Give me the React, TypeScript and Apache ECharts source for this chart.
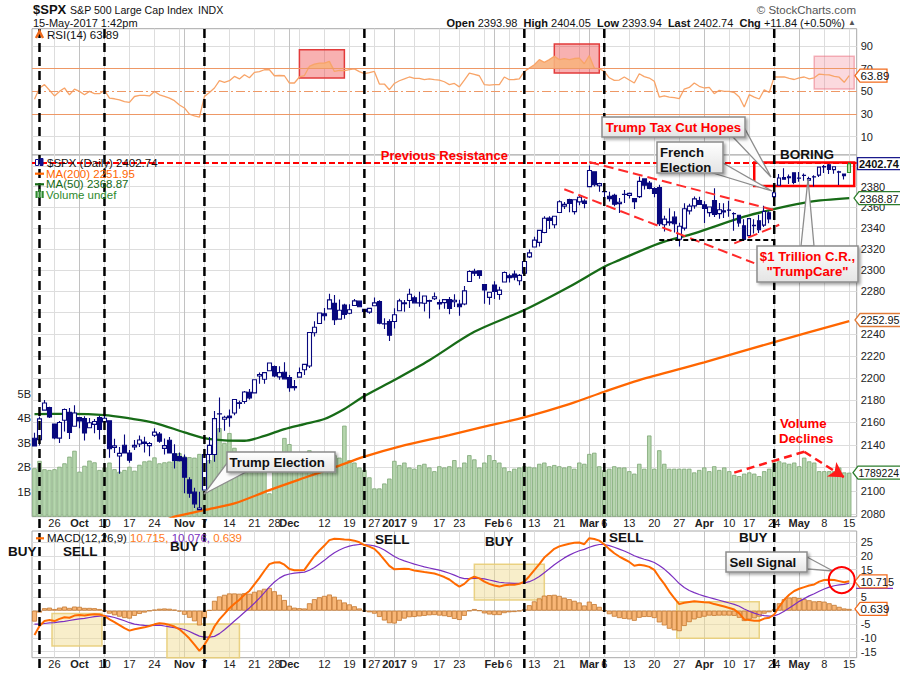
import React, { useEffect, useRef } from "react";
import * as echarts from "echarts";

const FONT = "Arial, 'Liberation Sans', sans-serif";

const dates: string[] = [
"2016-09-20","2016-09-21","2016-09-22","2016-09-23","2016-09-26","2016-09-27","2016-09-28","2016-09-29","2016-09-30",
"2016-10-03","2016-10-04","2016-10-05","2016-10-06","2016-10-07","2016-10-10","2016-10-11","2016-10-12","2016-10-13","2016-10-14","2016-10-17","2016-10-18","2016-10-19","2016-10-20","2016-10-21","2016-10-24","2016-10-25","2016-10-26","2016-10-27","2016-10-28","2016-10-31",
"2016-11-01","2016-11-02","2016-11-03","2016-11-04","2016-11-07","2016-11-08","2016-11-09","2016-11-10","2016-11-11","2016-11-14","2016-11-15","2016-11-16","2016-11-17","2016-11-18","2016-11-21","2016-11-22","2016-11-23","2016-11-25","2016-11-28","2016-11-29","2016-11-30",
"2016-12-01","2016-12-02","2016-12-05","2016-12-06","2016-12-07","2016-12-08","2016-12-09","2016-12-12","2016-12-13","2016-12-14","2016-12-15","2016-12-16","2016-12-19","2016-12-20","2016-12-21","2016-12-22","2016-12-23","2016-12-27","2016-12-28","2016-12-29","2016-12-30",
"2017-01-03","2017-01-04","2017-01-05","2017-01-06","2017-01-09","2017-01-10","2017-01-11","2017-01-12","2017-01-13","2017-01-17","2017-01-18","2017-01-19","2017-01-20","2017-01-23","2017-01-24","2017-01-25","2017-01-26","2017-01-27","2017-01-30","2017-01-31",
"2017-02-01","2017-02-02","2017-02-03","2017-02-06","2017-02-07","2017-02-08","2017-02-09","2017-02-10","2017-02-13","2017-02-14","2017-02-15","2017-02-16","2017-02-17","2017-02-21","2017-02-22","2017-02-23","2017-02-24","2017-02-27","2017-02-28",
"2017-03-01","2017-03-02","2017-03-03","2017-03-06","2017-03-07","2017-03-08","2017-03-09","2017-03-10","2017-03-13","2017-03-14","2017-03-15","2017-03-16","2017-03-17","2017-03-20","2017-03-21","2017-03-22","2017-03-23","2017-03-24","2017-03-27","2017-03-28","2017-03-29","2017-03-30","2017-03-31",
"2017-04-03","2017-04-04","2017-04-05","2017-04-06","2017-04-07","2017-04-10","2017-04-11","2017-04-12","2017-04-13","2017-04-17","2017-04-18","2017-04-19","2017-04-20","2017-04-21","2017-04-24","2017-04-25","2017-04-26","2017-04-27","2017-04-28",
"2017-05-01","2017-05-02","2017-05-03","2017-05-04","2017-05-05","2017-05-08","2017-05-09","2017-05-10","2017-05-11","2017-05-12","2017-05-15","2017-05-16"
];

// [open, close, low, high]
const ohlc: number[][] = [
[2145.9,2139.1,2139.1,2150.8],[2144.6,2163.1,2139.6,2165.1],[2170.9,2177.2,2170.9,2179.99],[2173.3,2164.7,2163.97,2173.8],[2158.5,2146.1,2145.0,2158.5],
[2146.0,2159.9,2141.6,2161.1],[2161.9,2171.4,2151.8,2172.4],[2168.9,2151.1,2145.2,2172.7],[2156.5,2168.3,2156.5,2175.3],[2164.3,2161.2,2154.8,2164.4],
[2163.4,2150.5,2144.0,2165.5],[2155.2,2159.7,2155.2,2163.95],[2158.2,2160.8,2150.3,2162.9],[2164.2,2153.7,2144.9,2165.9],[2160.4,2163.7,2160.4,2169.6],
[2161.4,2136.7,2128.8,2161.6],[2137.7,2139.2,2132.8,2145.4],[2130.3,2132.6,2114.7,2138.2],[2139.7,2132.98,2132.9,2149.2],[2132.95,2126.5,2124.4,2135.6],
[2138.3,2139.6,2135.5,2144.4],[2140.8,2144.3,2138.2,2148.4],[2142.5,2141.3,2133.4,2147.2],[2139.4,2141.2,2130.1,2142.6],[2148.5,2151.3,2146.9,2154.8],
[2149.7,2143.2,2141.9,2151.4],[2136.97,2139.4,2131.6,2145.7],[2144.1,2133.0,2132.5,2147.1],[2132.2,2126.4,2119.4,2140.7],[2129.8,2126.2,2125.5,2133.3],
[2128.7,2111.7,2097.9,2131.5],[2109.4,2097.9,2094.0,2111.8],[2098.8,2088.7,2085.2,2102.6],[2083.8,2085.2,2083.8,2099.1],[2100.6,2131.5,2100.6,2132.0],
[2131.6,2139.6,2123.6,2146.9],[2131.6,2163.3,2125.3,2170.1],[2167.5,2167.48,2151.2,2182.3],[2162.7,2164.5,2152.5,2165.9],[2165.6,2164.2,2156.1,2171.4],
[2168.3,2180.4,2166.4,2180.8],[2177.5,2176.9,2172.2,2179.2],[2178.6,2187.1,2176.6,2188.1],[2186.9,2181.9,2180.4,2189.9],[2186.4,2198.2,2186.4,2198.7],
[2201.6,2202.9,2194.5,2204.8],[2198.6,2204.7,2194.5,2204.7],[2206.3,2213.4,2206.3,2213.4],[2210.2,2201.7,2200.4,2211.1],[2200.8,2204.7,2198.1,2210.5],
[2204.97,2199.0,2198.8,2214.1],[2200.2,2191.1,2187.4,2202.6],[2191.1,2191.95,2188.4,2197.95],[2200.6,2204.7,2199.97,2209.4],[2207.3,2212.2,2202.5,2212.8],
[2210.7,2241.4,2208.9,2241.6],[2241.1,2246.2,2237.6,2251.7],[2249.7,2259.5,2249.2,2259.8],[2258.8,2256.96,2252.4,2264.0],[2263.3,2271.7,2263.3,2277.5],
[2268.4,2253.3,2248.4,2276.2],[2253.8,2262.0,2253.8,2272.1],[2266.8,2258.1,2254.2,2268.1],[2259.2,2262.5,2258.2,2267.5],[2266.5,2270.8,2266.1,2272.6],
[2270.5,2265.2,2265.2,2271.2],[2262.9,2260.96,2256.1,2263.2],[2260.25,2263.8,2258.8,2263.8],[2266.2,2268.9,2266.2,2273.8],[2270.2,2249.9,2249.1,2271.3],
[2249.5,2249.3,2244.6,2254.5],[2251.6,2238.8,2233.6,2253.6],[2251.6,2257.8,2245.1,2263.9],[2261.6,2270.8,2261.6,2272.8],[2268.2,2269.0,2260.5,2271.5],
[2271.1,2276.98,2264.1,2282.1],[2273.6,2268.9,2268.8,2275.5],[2269.0,2268.9,2265.3,2279.3],[2268.6,2275.3,2260.8,2275.3],[2271.1,2270.4,2254.3,2271.8],
[2272.7,2274.6,2271.5,2278.7],[2269.1,2267.9,2262.8,2272.1],[2269.1,2271.9,2263.4,2272.0],[2271.9,2263.7,2258.4,2274.3],[2269.96,2271.3,2265.0,2276.96],
[2267.8,2265.2,2257.0,2271.8],[2267.9,2280.1,2266.7,2284.6],[2288.9,2298.4,2288.9,2299.6],[2298.6,2296.7,2294.1,2300.99],[2299.0,2294.7,2291.6,2299.0],
[2286.0,2280.9,2268.0,2286.0],[2274.0,2278.9,2267.2,2279.1],[2285.6,2279.6,2272.4,2289.1],[2276.7,2280.85,2271.7,2283.97],[2288.5,2297.4,2287.9,2298.3],
[2294.3,2292.6,2287.9,2296.2],[2295.9,2293.1,2290.2,2299.4],[2289.6,2294.7,2285.4,2295.9],[2296.7,2307.9,2296.6,2311.1],[2312.3,2316.1,2311.1,2319.2],
[2321.7,2328.3,2321.4,2331.6],[2326.1,2337.6,2322.2,2337.6],[2335.6,2349.3,2334.8,2351.3],[2349.6,2347.2,2338.9,2351.3],[2343.0,2351.2,2339.6,2351.2],
[2354.9,2365.4,2354.9,2366.7],[2361.1,2362.8,2358.3,2365.1],[2367.5,2363.8,2355.1,2368.3],[2355.7,2367.3,2352.9,2367.3],[2365.2,2369.75,2361.9,2371.5],
[2366.1,2363.6,2358.96,2367.8],[2380.1,2395.96,2380.1,2400.98],[2394.75,2381.9,2380.2,2394.75],[2380.9,2383.1,2375.1,2383.9],[2375.2,2375.3,2367.98,2378.8],
[2370.7,2368.4,2365.5,2375.1],[2371.6,2362.98,2361.0,2373.2],[2363.5,2364.9,2354.5,2369.1],[2372.5,2372.6,2364.0,2376.9],[2371.6,2373.5,2368.5,2374.4],
[2368.5,2365.45,2358.2,2368.6],[2370.3,2385.3,2368.9,2390.0],[2387.7,2381.4,2377.2,2388.1],[2383.7,2378.25,2377.6,2385.7],[2378.2,2373.5,2369.7,2379.6],
[2379.3,2344.0,2341.9,2381.9],[2343.0,2348.45,2336.5,2351.8],[2345.1,2345.96,2342.1,2358.9],[2350.4,2343.98,2335.7,2356.2],[2329.1,2341.6,2322.25,2344.9],
[2339.8,2358.6,2337.6,2363.8],[2356.5,2361.1,2352.9,2363.4],[2361.3,2368.1,2358.6,2370.4],[2366.6,2362.7,2362.6,2370.3],[2362.3,2358.8,2344.7,2365.9],
[2354.8,2360.2,2350.7,2360.5],[2366.6,2352.95,2350.5,2378.4],[2353.8,2357.5,2348.9,2364.2],[2356.6,2355.5,2349.6,2363.8],[2357.2,2357.1,2350.7,2366.4],
[2353.9,2353.8,2337.25,2355.2],[2352.2,2344.9,2341.2,2352.7],[2341.98,2328.95,2328.95,2348.3],[2332.6,2349.0,2332.5,2349.1],[2342.5,2342.2,2334.5,2348.4],
[2346.8,2338.2,2335.1,2352.6],[2342.7,2355.8,2340.9,2361.4],[2354.7,2348.7,2344.5,2356.2],[2370.3,2374.15,2370.3,2376.98],[2381.5,2388.6,2381.15,2392.5],
[2388.98,2387.45,2386.8,2398.2],[2389.7,2388.8,2382.7,2392.1],[2393.7,2384.2,2382.4,2393.7],[2388.5,2388.3,2384.8,2394.5],[2391.05,2391.2,2385.8,2392.9],
[2386.5,2388.1,2379.75,2389.8],[2389.8,2389.5,2380.35,2391.4],[2391.4,2399.3,2389.6,2399.3],[2399.9,2399.4,2393.6,2401.4],[2401.6,2396.9,2392.4,2403.9],
[2396.8,2399.6,2392.8,2399.7],[2394.8,2394.4,2381.7,2395.7],[2392.4,2390.9,2387.2,2392.4],[2393.98,2402.74,2393.94,2404.05]
];

// volume in billions
const volume: number[] = [
1.97,2.27,1.93,1.90,1.93,2.03,2.17,2.44,2.68,1.83, 2.07,2.28,2.21,1.90,2.00,2.20,1.93,1.83,1.90,2.03,
1.87,2.11,2.25,2.28,2.41,2.17,2.21,2.24,2.58,2.58, 2.45,2.42,2.40,2.55,2.5,2.3,3.3,3.6,3.0,3.4,
2.8,2.4,2.3,2.4,2.2,2.35,2.1,0.95,2.2,2.3, 3.2,2.95,2.4,2.3,2.5,2.7,2.6,2.4,2.35,2.6,
2.5,2.4,3.7,2.3,2.2,2.0,1.9,1.6,1.15,1.15, 1.35,1.55,2.27,2.1,2.2,2.0,1.95,2.1,2.15,2.0,
1.85,2.05,2.0,2.05,2.3,2.0,2.2,2.5,2.33,2.0, 2.2,2.5,2.3,2.2,2.0,1.85,1.95,2.0,2.05,2.03,
2.0,2.15,2.2,2.05,2.1,2.05,2.0,2.05,1.95,2.2, 2.15,2.55,2.6,2.05,1.9,1.95,2.05,2.0,2.0,1.85,
1.75,2.15,1.95,3.3,1.95,2.7,2.15,1.95,1.95,1.95, 1.95,1.95,1.8,1.9,2.0,1.85,2.05,1.9,2.0,1.85,
1.7,1.65,1.75,1.8,1.75,1.65,1.85,1.95,2.2,2.25, 2.2,2.15,2.2,2.05,2.4,2.25,2.2,1.85,1.85,1.85,
1.85,2.0,1.8,1.789
];

const ma50Pts: number[][] = [[0,2167.4],[7,2167.5],[14,2166.5],[19,2163.5],[24,2159.6],[30,2151.1],[34,2145.9],[38,2144.0],[42,2143.7],[46,2148],[50,2154],[54,2158.5],[58,2163],[62,2172],[66,2183.5],[72,2198],[79,2216],[88,2242],[98,2262.2],[107,2284],[114,2302.9],[117,2309.2],[125,2325.2],[132,2334.8],[142,2350.8],[148,2358.2],[155,2365.3],[163,2368.87]];
const ma200Pts: number[][] = [[26,2074],[28,2077.7],[34,2083.4],[40,2089.1],[47,2100.6],[54,2111.3],[60,2120.3],[66,2129.7],[73,2138.5],[83,2148.7],[90,2156.1],[98,2164.5],[107,2176.3],[114,2187.4],[121,2197.9],[134,2214],[148,2232.6],[163,2252]];

const rsi: number[] = [
43,53,56,51,46,50,53,47,52,50, 47,50,48,48,51,44,43.5,42.5,41,40.3,
45.5,46.5,46.5,46,50,47,45.6,44,41.8,38, 35.4,30,28.5,27.4,45.6,49,53,59.4,58,59.4,
63.2,61,64.7,62,66.8,67.5,69.1,69.1,63.8,64, 63.8,57.4,57.4,62.7,64,72,74,75,75,76.5,
67.6,68.5,68.3,69.3,69.8,67.5,65.6,66.5,67.6,56.5, 56.5,51.5,57,59.4,61,62.7,61.5,61.5,60.3,61,
60.3,60,58.5,56,57,54,60,66.2,65,63.8, 55.9,55.5,56,55.9,62.7,60.3,60.5,61,67.6,70.5,
73.5,78,75.6,78,80.9,78,79,78,79,79.4, 74.4,81.5,70.6,70,67.6,62,59.7,60,62.7,60,
57.4,65.6,63,61.8,59,45,46,45,44.5,43.6, 52.1,53.5,57.4,54.5,53,53.5,48,51,50,50,
49,45,36.2,47.1,45,43.3,51.5,49,62.7,62.7, 62.7,61.5,60.5,62,62.7,61,62,65.3,64.8,64.5,
63.2,62.5,58,63.89
];

const macd: number[] = [
-8.9,-5.6,-3.8,-3.4,-3.8,-3.0,-2.4,-2.6,-1.8,-1.6, -1.8,-1.5,-1.3,-1.4,-1.9,-3.2,-4.2,-5.3,-6.4,-7.3,
-6.8,-6.4,-6.1,-5.6,-5.0,-4.6,-4.8,-5.2,-5.8,-6.8, -8.4,-10.2,-12.4,-14.7,-12.5,-9.5,-5.8,-3.2,-1.2,0.9,
2.5,4.0,5.8,7.2,9.6,12.0,14.6,17.0,17.6,17.7, 16.8,15.2,14.8,14.8,14.9,17.5,20.0,22.0,23.8,25.8,
26.3,26.2,26.0,25.9,25.6,25.0,24.0,23.4,22.6,20.8, 18.6,16.4,15.1,15.2,15.3,15.2,14.7,14.4,14.1,13.9,
13.6,13.0,12.3,11.4,10.0,8.8,9.8,11.6,12.4,11.8, 10.6,9.8,9.2,8.8,9.3,9.5,9.5,9.8,10.6,12.6,
14.8,17.0,19.4,21.0,22.6,23.5,24.0,24.5,24.8,24.9, 24.3,26.5,26.2,25.6,24.2,22.5,21.0,19.8,18.8,17.8,
16.4,16.8,16.5,16.0,14.9,12.2,9.8,7.0,4.6,2.4, 2.9,3.2,3.4,3.3,3.1,3.0,2.4,2.0,1.5,1.0,
0.4,-1.0,-3.2,-3.4,-3.7,-3.7,-2.9,-2.6,-1.4,1.5, 4.0,5.8,7.2,8.0,8.6,9.2,9.6,10.6,11.2,11.3,
11.2,10.8,10.4,10.715
];

const signal: number[] = [
-4.9,-4.9,-4.7,-4.5,-4.4,-4.1,-3.9,-3.6,-3.3,-3.0, -2.8,-2.5,-2.2,-2.0,-1.8,-2.1,-2.5,-3.1,-3.7,-4.4,
-4.9,-5.2,-5.4,-5.5,-5.4,-5.3,-5.6,-5.9,-6.2,-6.5, -6.9,-7.6,-8.5,-9.3,-9.7,-9.7,-9.4,-8.4,-7.0,-5.4,
-3.8,-2.2,-0.6,1.0,2.7,4.6,6.6,8.7,10.5,11.9, 12.9,13.4,13.7,13.9,14.1,14.8,15.8,17.1,18.4,19.9,
21.2,22.2,23.0,23.6,24.0,24.2,24.2,24.0,23.7,23.1, 22.2,21.0,19.8,18.9,18.2,17.6,17.0,16.5,16.0,15.6,
15.2,14.8,14.3,13.7,13.0,12.2,11.7,11.7,11.8,11.8, 11.6,11.2,10.8,10.4,10.2,10.1,10.0,10.0,10.1,10.6,
11.4,12.5,13.9,15.3,16.8,18.1,19.3,20.3,21.2,21.9, 22.4,23.2,23.8,24.2,24.2,23.8,23.2,22.5,21.8,21.0,
20.1,19.4,18.8,18.3,17.6,16.5,15.2,13.6,11.8,9.9, 8.5,7.4,6.6,5.9,5.3,4.8,4.3,3.8,3.3,2.8,
2.3,1.6,0.6,-0.2,-0.9,-1.5,-1.8,-2.0,-1.9,-1.2, -0.2,1.0,2.2,3.4,4.4,5.4,6.2,7.1,7.9,8.6,
9.1,9.4,9.6,10.076
];

const hist: number[] = [
-4.0,-0.7,0.9,1.1,0.6,1.1,1.5,1.0,1.5,1.4, 1.0,1.0,0.9,0.6,-0.1,-1.1,-1.7,-2.2,-2.7,-2.9,
-1.9,-1.2,-0.7,-0.1,0.4,0.7,0.8,0.7,0.4,-0.3, -1.5,-2.6,-3.9,-5.4,-2.8,0.2,3.6,5.2,5.8,6.3,
6.3,6.2,6.4,6.2,6.9,7.4,8.0,8.3,7.1,5.8, 3.9,1.8,1.1,0.9,0.8,2.7,4.2,4.9,5.4,5.9,
5.1,4.0,3.0,2.3,1.6,0.8,-0.2,-0.6,-1.1,-2.3, -3.6,-4.6,-4.7,-3.7,-2.9,-2.4,-2.3,-2.1,-1.9,-1.7,
-1.6,-1.8,-2.0,-2.3,-3.0,-3.4,-1.9,-0.1,0.6,0.0, -1.0,-1.4,-1.6,-1.6,-0.9,-0.6,-0.5,-0.2,0.5,2.0,
3.4,4.5,5.5,5.7,5.8,5.4,4.7,4.2,3.6,3.0, 1.9,3.3,2.4,1.4,0.0,-1.3,-2.2,-2.7,-3.0,-3.2,
-3.7,-2.6,-2.3,-2.3,-2.7,-4.3,-5.4,-6.6,-7.2,-7.5, -5.6,-4.2,-3.2,-2.6,-2.2,-1.8,-1.9,-1.8,-1.8,-1.8,
-1.9,-2.6,-3.8,-3.2,-2.8,-2.2,-1.1,-0.6,0.5,2.7, 4.2,4.8,5.0,4.6,4.2,3.8,3.4,3.5,3.3,2.7,
2.1,1.4,0.8,0.639
];

const monthLabels: Record<string, string> = {
  "2016-10-03": "Oct", "2016-11-01": "Nov", "2016-12-01": "Dec", "2017-01-03": "2017",
  "2017-02-01": "Feb", "2017-03-01": "Mar", "2017-04-03": "Apr", "2017-05-01": "May",
};
const dayLabels: string[] = ["2016-09-26","2016-10-10","2016-10-17","2016-10-24","2016-11-07","2016-11-14","2016-11-21","2016-11-28","2016-12-12","2016-12-19","2016-12-27","2017-01-09","2017-01-17","2017-01-23","2017-02-06","2017-02-13","2017-02-21","2017-03-06","2017-03-13","2017-03-20","2017-03-27","2017-04-10","2017-04-17","2017-04-24","2017-05-08","2017-05-15"];
const weekGrid: string[] = [...dayLabels, "2016-10-03","2016-10-31","2016-12-05","2017-01-03","2017-01-30","2017-02-27","2017-04-03","2017-05-01"];
const signalDays: string[] = ["2016-09-21","2016-10-10","2016-11-07","2016-12-22","2017-02-09","2017-03-06","2017-04-24"];

const priceGridTicks = [2080,2100,2120,2140,2160,2180,2200,2220,2240,2260,2280,2300,2320,2340,2360,2380,2400];
const priceLabelTicks = [2080,2100,2140,2160,2180,2200,2220,2240,2280,2300,2320,2340,2360,2380];
const rsiTicks = [10,30,50,70,90];
const volTicks = [1,2,3,4,5];
const macdGridTicks = [-15,-10,-5,0,5,10,15,20,25];
const macdLabelTicks = [-15,-10,-5,5,15,20,25];

const labelSet = new Set([...dayLabels, ...Object.keys(monthLabels)]);
const weekSet = new Set(weekGrid);
const monthSet = new Set(Object.keys(monthLabels));

function mkX(gridIndex: number, labels: boolean, kind: "w" | "m") {
  return {
    type: "category", gridIndex, data: dates, boundaryGap: true,
    position: kind === "m" ? "top" : "bottom",
    axisLine: { show: false }, axisTick: { show: false },
    axisLabel: labels ? {
      show: true, interval: (i: number, v: string) => labelSet.has(v),
      formatter: (v: string) => monthLabels[v] ? `{b|${monthLabels[v]}}` : String(Number(v.slice(8))),
      margin: 1, fontSize: 11, color: "#222", fontFamily: FONT, hideOverlap: false,
      rich: { b: { fontWeight: "bold", fontSize: 11, color: "#222", fontFamily: FONT } },
    } : { show: false },
    splitLine: {
      show: true, alignWithLabel: true,
      interval: (i: number, v: string) => (kind === "w" ? weekSet : monthSet).has(v),
      lineStyle: { color: kind === "w" ? "#dddddd" : "#c2c2c2", width: 1 },
    },
  };
}

const yLabel = { color: "#222", fontSize: 11, fontFamily: FONT, margin: 4 };

function buildOption(): any {
  const grids = [
    { left: 32, width: 824.7, top: 28.7, height: 126.3 },
    { left: 32, width: 824.7, top: 155, height: 361.7 },
    { left: 32, width: 824.7, top: 531, height: 126.7 },
  ].map((g) => ({ ...g, show: true, borderColor: "#a8a8a8", borderWidth: 1, backgroundColor: "#fff", containLabel: false, outerBoundsMode: "none" }));

  const lastIdx = ohlc.length - 1;
  const candleData = ohlc.map((d, i) => i === lastIdx ? { value: d, itemStyle: { color: "#b9eaa6", color0: "#b9eaa6", borderColor: "#2f8f2f", borderColor0: "#2f8f2f" } } : d);

  const redDash = { color: "#ff2a2a", width: 2, type: [10, 5] };

  return {
    animation: false,
    backgroundColor: "#fff",
    textStyle: { fontFamily: FONT },
    grid: grids,
    xAxis: [mkX(0, false, "w"), mkX(1, true, "w"), mkX(2, true, "w"), mkX(0, false, "m"), mkX(1, false, "m"), mkX(2, false, "m")],
    yAxis: [
      { gridIndex: 0, type: "value", position: "right", min: -6.1, max: 105.3, axisLine: { show: false },
        axisTick: { show: false, customValues: [10, 90] }, axisLabel: { ...yLabel, customValues: rsiTicks },
        splitLine: { show: true, lineStyle: { color: "#dddddd" } } },
      { gridIndex: 1, type: "log", logBase: 10, position: "right", min: 2077.7, max: 2411.3, axisLine: { show: false },
        axisTick: { show: false, customValues: priceGridTicks },
        axisLabel: { ...yLabel, customValues: priceLabelTicks, formatter: (v: number) => String(Math.round(v)) },
        splitLine: { show: true, lineStyle: { color: "#dddddd" } } },
      { gridIndex: 1, type: "value", position: "left", min: 0, max: 14.7, axisLine: { show: false },
        axisTick: { show: false, customValues: volTicks },
        axisLabel: { ...yLabel, margin: 1, customValues: volTicks, formatter: (v: number) => `${v}B` },
        splitLine: { show: false } },
      { gridIndex: 2, type: "value", position: "right", min: -17.2, max: 29.13, axisLine: { show: false },
        axisTick: { show: false, customValues: macdGridTicks }, axisLabel: { ...yLabel, customValues: macdLabelTicks },
        splitLine: { show: true, lineStyle: { color: "#dddddd" } } },
    ],
    series: [
      // RSI overbought fill (stacked above 70)
      { type: "line", xAxisIndex: 0, yAxisIndex: 0, data: rsi.map(() => 70), stack: "ob", symbol: "none", lineStyle: { opacity: 0 }, silent: true, z: 2 },
      { type: "line", xAxisIndex: 0, yAxisIndex: 0, data: rsi.map((v) => Math.max(0, v - 70)), stack: "ob", symbol: "none", lineStyle: { opacity: 0 }, areaStyle: { color: "#f7b27e", opacity: 0.9 }, silent: true, z: 2 },
      { type: "line", xAxisIndex: 0, yAxisIndex: 0, data: rsi, symbol: "none", lineStyle: { color: "#f8a468", width: 1.3 }, silent: true, z: 3,
        markLine: { silent: true, symbol: ["none", "none"], label: { show: false }, lineStyle: { color: "#ee9866", width: 1, type: "solid" },
          data: [{ yAxis: 70 }, { yAxis: 30 }, { yAxis: 50, lineStyle: { color: "#ee9866", width: 1, type: [9, 3, 2, 3] } }] },
        markArea: { silent: true, data: [
          [{ coord: [53, 86.8], itemStyle: { color: "rgba(238,70,70,0.42)", borderColor: "#e23b3b", borderWidth: 1.5 } }, { coord: [62, 61.8] }],
          [{ coord: [104, 91.8], itemStyle: { color: "rgba(238,70,70,0.42)", borderColor: "#e23b3b", borderWidth: 1.5 } }, { coord: [113, 66.2] }],
          [{ coord: [156, 80.9], itemStyle: { color: "rgba(240,120,135,0.28)", borderColor: "rgba(235,120,135,0.55)", borderWidth: 1.5 } }, { coord: [164, 52.1] }],
        ] } },
      // Volume
      { type: "bar", xAxisIndex: 1, yAxisIndex: 2, data: volume, barCategoryGap: "12%", itemStyle: { color: "#b6d6ae", borderColor: "#7ca673", borderWidth: 0.8 }, silent: true, z: 1,
        markLine: { silent: true, symbol: ["none", "none"], label: { show: false }, lineStyle: { color: "#ff1a1a", width: 2.5, type: [8, 5] },
          data: [
            [{ coord: [140, 1.79] }, { coord: [154, 2.64] }],
            [{ coord: [154, 2.64] }, { coord: [162, 1.6], symbol: "arrow", symbolSize: [13, 15] }],
          ] } },
      // Moving averages
      { type: "line", xAxisIndex: 1, yAxisIndex: 1, data: ma200Pts, symbol: "none", smooth: 0.3, lineStyle: { color: "#ff6600", width: 2.3 }, silent: true, z: 3 },
      { type: "line", xAxisIndex: 1, yAxisIndex: 1, data: ma50Pts, symbol: "none", smooth: 0.3, lineStyle: { color: "#176b17", width: 2.3 }, silent: true, z: 3 },
      // Candles
      { type: "candlestick", xAxisIndex: 1, yAxisIndex: 1, data: candleData, barWidth: 4, silent: true, z: 4,
        itemStyle: { color: "#ffffff", color0: "#08087e", borderColor: "#08087e", borderColor0: "#08087e", borderWidth: 1.1 },
        markLine: { silent: true, symbol: ["none", "none"], label: { show: false },
          data: [
            { yAxis: 2403.6, lineStyle: { color: "#ff0000", width: 2, type: [6, 3] },
              label: { show: true, position: "insideMiddleTop", formatter: "Previous Resistance", color: "#ff0000", fontWeight: "bold", fontSize: 13, fontFamily: FONT, distance: 1 } },
            [{ coord: [111, 2404.4], lineStyle: redDash }, { coord: [148, 2357.3] }],
            [{ coord: [106, 2377.5], lineStyle: redDash }, { coord: [144, 2306.3] }],
            [{ coord: [140, 2325.1], lineStyle: redDash }, { coord: [149, 2343] }],
            [{ coord: [125, 2328.3], lineStyle: { color: "#000", width: 2, type: [5, 3] } }, { coord: [148, 2328.3] }],
          ] },
        markArea: { silent: true, data: [
          [{ coord: [144, 2403.8], itemStyle: { color: "rgba(0,0,0,0)", borderColor: "#ff0000", borderWidth: 2.5 } }, { coord: [164, 2380.7] }],
        ] } },
      // MACD
      { type: "bar", xAxisIndex: 2, yAxisIndex: 3, data: hist, barCategoryGap: "0%", itemStyle: { color: "#f8b676", borderColor: "#c4772f", borderWidth: 0.8 }, silent: true, z: 2,
        markArea: { silent: true, itemStyle: { color: "rgba(242,222,150,0.5)", borderColor: "rgba(232,205,120,0.9)", borderWidth: 1.5 }, data: [
          [{ coord: [0, -1] }, { coord: [13, -12.9] }],
          [{ coord: [25, -4.9] }, { coord: [39, -17.2] }],
          [{ coord: [89, 17] }, { coord: [100, 3.9] }],
          [{ coord: [129, 3.3] }, { coord: [145, -10.1] }],
        ] } },
      { type: "line", xAxisIndex: 2, yAxisIndex: 3, data: signal, symbol: "none", lineStyle: { color: "#7b2fc0", width: 1.2 }, silent: true, z: 3 },
      { type: "line", xAxisIndex: 2, yAxisIndex: 3, data: macd, symbol: "none", lineStyle: { color: "#ff6a00", width: 2 }, silent: true, z: 4 },
    ],
  };
}

function buildGraphics(chart: any): any[] {
  const X = (i: number) => chart.convertToPixel({ xAxisIndex: 1 }, i) as number;
  const Y = (ax: number, v: number) => chart.convertToPixel({ yAxisIndex: ax }, v) as number;
  const els: any[] = [];
  const txt = (x: number, y: number, text: string, extra: any = {}) =>
    els.push({ type: "text", z: 120, style: { x, y, text, fill: "#111", fontSize: 11, fontFamily: FONT, verticalAlign: "middle", align: "left", ...extra } });

  // vertical dashed signal lines
  signalDays.forEach((d) => {
    const x = X(dates.indexOf(d));
    els.push({ type: "line", z: 100, shape: { x1: x, y1: 29, x2: x, y2: 673 }, style: { stroke: "#000", lineWidth: 2.5, lineDash: [9, 5] } });
  });

  // header
  txt(33, 9.5, "$SPX", { fontWeight: "bold", fontSize: 13 });
  txt(70, 9.5, "S&P 500 Large Cap Index", { fontSize: 10.6 });
  txt(198, 9.5, "INDX", { fontSize: 10.6 });
  txt(33, 22.5, "15-May-2017 1:42pm", { fontSize: 11 });
  txt(856, 9.5, "\u00A9 StockCharts.com", { fontSize: 11.5, fill: "#555", align: "right" });
  txt(856, 22.5, "{b|Open} 2393.98  {b|High} 2404.05  {b|Low} 2393.94  {b|Last} 2402.74  {b|Chg} +11.84 (+0.50%) {g|\u25B2}", {
    fontSize: 11, align: "right",
    rich: { b: { fontWeight: "bold", fontSize: 11, fontFamily: FONT, fill: "#111" }, g: { fontSize: 8, fill: "#555" } },
  });

  // RSI legend
  els.push({ type: "polyline", z: 120, shape: { points: [[36, 38], [39.5, 31.5], [43, 38]] }, style: { stroke: "#f06a1a", lineWidth: 2.5, fill: "none" } });
  txt(47, 35, "RSI(14) 63.89", { fontSize: 11.5 });

  // price legend
  els.push({ type: "rect", z: 120, shape: { x: 35.5, y: 159.5, width: 3, height: 6 }, style: { fill: "#fff", stroke: "#10108a", lineWidth: 1 } });
  els.push({ type: "rect", z: 120, shape: { x: 40, y: 158.5, width: 3, height: 7 }, style: { fill: "#10108a", stroke: "#10108a", lineWidth: 1 } });
  txt(47, 162.7, "$SPX (Daily) 2402.74", { fontSize: 11.5 });
  els.push({ type: "line", z: 120, shape: { x1: 35, y1: 173.7, x2: 44, y2: 173.7 }, style: { stroke: "#ff6600", lineWidth: 2.2 } });
  txt(46, 173.7, "MA(200) 2251.95", { fontSize: 11.5, fill: "#ff6600" });
  els.push({ type: "line", z: 120, shape: { x1: 35, y1: 184.3, x2: 44, y2: 184.3 }, style: { stroke: "#176b17", lineWidth: 2.2 } });
  txt(46, 184.3, "MA(50) 2368.87", { fontSize: 11.5, fill: "#176b17" });
  [35.5, 38.5, 41.5].forEach((x, k) => els.push({ type: "rect", z: 120, shape: { x, y: 190 + (k === 1 ? -1 : 1), width: 2.2, height: 8 - (k === 1 ? -1 : 1) }, style: { fill: "#2e8a2e" } }));
  txt(46, 194.5, "Volume undef", { fontSize: 11.5, fill: "#2e8a2e" });

  // MACD legend
  els.push({ type: "line", z: 120, shape: { x1: 36, y1: 538.3, x2: 44, y2: 538.3 }, style: { stroke: "#ff6a00", lineWidth: 2.2 } });
  txt(47, 538.3, "{k|MACD(12,26,9)} {o|10.715,} {p|10.076,} {o|0.639}", {
    fontSize: 11.5,
    rich: { k: { fill: "#111", fontSize: 11.5, fontFamily: FONT }, o: { fill: "#ff7a1a", fontSize: 11.5, fontFamily: FONT }, p: { fill: "#7b2fc0", fontSize: 11.5, fontFamily: FONT } },
  });

  // BUY / SELL labels
  const bs = (x: number, y: number, t: string) => txt(x, y, t, { fontWeight: "bold", fontSize: 13.5, fill: "#111" });
  bs(8, 551.7, "BUY"); bs(63, 551.7, "SELL"); bs(170, 546.7, "BUY"); bs(375, 539, "SELL");
  bs(485, 541, "BUY"); bs(609, 537.3, "SELL"); bs(739, 537.3, "BUY");

  // callouts
  const grad = () => new echarts.graphic.LinearGradient(0, 0, 0, 1, [{ offset: 0, color: "#ffffff" }, { offset: 1, color: "#e4e4e4" }]);
  const callout = (r: number[], wedge: number[][]) => {
    els.push({ type: "polygon", z: 110, shape: { points: wedge }, style: { fill: "#fbfbfb", stroke: "#8c8c8c", lineWidth: 1.3 } });
    els.push({ type: "rect", z: 111, shape: { x: r[0], y: r[1], width: r[2], height: r[3] }, style: { fill: grad(), stroke: "#8c8c8c", lineWidth: 1.5, shadowBlur: 3, shadowOffsetX: 2, shadowOffsetY: 2, shadowColor: "rgba(0,0,0,0.35)" } });
  };
  const bold = { fontWeight: "bold", fontSize: 13.2 };
  callout([602, 117, 143, 20], [[733, 137], [745, 129], [771, 177]]);
  txt(673.5, 127.3, "Trump Tax Cut Hopes", { ...bold, fill: "#ff0000", align: "center" });
  callout([657, 142, 66, 31], [[713, 173], [723, 163], [772, 191]]);
  txt(660, 152.7, "French", { ...bold });
  txt(660, 167.3, "Election", { ...bold });
  callout([757, 246, 101, 36], [[801, 246], [814, 246], [808, 179]]);
  txt(807.5, 256.7, "$1 Trillion C.R.,", { ...bold, fill: "#ff0000", align: "center" });
  txt(807.5, 271.7, "\"TrumpCare\"", { ...bold, fill: "#ff0000", align: "center" });
  callout([227, 452, 108, 20], [[227, 463], [246, 472], [204, 494]]);
  txt(229.5, 462.3, "Trump Election", { ...bold });
  callout([726, 552, 81, 20], [[807, 557], [807, 569], [833, 571]]);
  txt(729.5, 562, "Sell Signal", { ...bold });

  // other annotation texts
  txt(780, 154.5, "BORING", { fontWeight: "bold", fontSize: 13.5 });
  txt(780, 423.5, "Volume", { fontWeight: "bold", fontSize: 13.2, fill: "#ff0000" });
  txt(779, 438.5, "Declines", { fontWeight: "bold", fontSize: 13.2, fill: "#ff0000" });

  // red circle on MACD crossover
  els.push({ type: "circle", z: 118, shape: { cx: X(161) + 2.5, cy: Y(3, 11.2), r: 13 }, style: { fill: "none", stroke: "#ff0000", lineWidth: 2 } });

  // right-side value tags
  const tag = (x0: number, y: number, text: string, stroke: string, w: number, fs = 11, isBold = false, arrow = true) => {
    const pts = arrow
      ? [[x0, y], [x0 + 5, y - 6.5], [x0 + 5 + w, y - 6.5], [x0 + 5 + w, y + 6.5], [x0 + 5, y + 6.5]]
      : [[x0, y - 6], [x0 + w, y - 6], [x0 + w, y + 6], [x0, y + 6]];
    els.push({ type: "polygon", z: 115, shape: { points: pts }, style: { fill: "#fff", stroke, lineWidth: 1.3 } });
    txt(arrow ? x0 + 5.5 : x0 + 1.5, y + 0.5, text, { fontSize: fs, fontWeight: isBold ? "bold" : "normal", z: 116 });
  };
  tag(855, Y(0, 63.89), "63.89", "#f26b1d", 27, 11.5);
  tag(857.5, Y(1, 2402.74), "2402.74", "#1a1a8c", 50, 11, true, false);
  tag(854, Y(1, 2368.87), "2368.87", "#2d7d2d", 50, 10.8);
  tag(855, Y(1, 2252.95), "2252.95", "#e07b39", 50, 10.8);
  tag(853, Y(2, 1.789224), "1789224", "#2d7d2d", 52, 10.4);
  const ym = Y(3, 10.715);
  els.push({ type: "line", z: 114, shape: { x1: 856, y1: ym + 7, x2: 893, y2: ym + 7 }, style: { stroke: "#7b2fc0", lineWidth: 1.3 } });
  tag(855, ym, "10.715", "#f26b1d", 27, 11);
  tag(855, Y(3, 0.639), "0.639", "#f26b1d", 27, 11.5);

  return els;
}

export default function App() {
  const ref = useRef<HTMLDivElement>(null);
  useEffect(() => {
    document.body.style.margin = "0";
    const chart = echarts.init(ref.current as HTMLDivElement, null, { renderer: "svg" });
    chart.setOption(buildOption());
    chart.setOption({ graphic: buildGraphics(chart) });
    return () => chart.dispose();
  }, []);
  return <div ref={ref} style={{ width: 900, height: 673 }} />;
}
